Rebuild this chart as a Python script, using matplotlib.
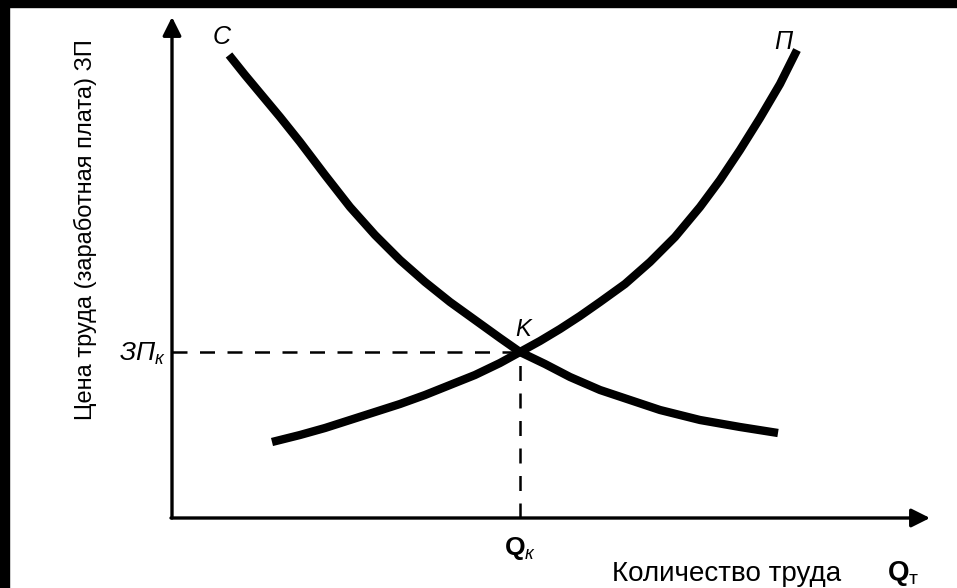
import matplotlib
matplotlib.use('Agg')
import matplotlib.pyplot as plt
from matplotlib.patches import Rectangle

plt.rcParams['font.family'] = ['Liberation Sans', 'DejaVu Sans']
plt.rcParams['mathtext.fontset'] = 'custom'
plt.rcParams['mathtext.rm'] = 'Liberation Sans'
plt.rcParams['mathtext.it'] = 'Liberation Sans:italic'
plt.rcParams['mathtext.bf'] = 'Liberation Sans:bold'

# Demand curve "С" (quantity of labour, wage)
demand_q = [5.7, 7.3, 8.8, 10.8, 12.8, 15.3, 17.8, 20.3, 22.8, 25.3, 27.8,
            30.3, 32.8, 34.8, 37.3, 39.8, 42.8, 45.8, 48.8, 52.8, 56.8, 60.6]
demand_w = [46.3, 44.3, 42.5, 40.1, 37.6, 34.3, 31.1, 28.3, 25.8, 23.6, 21.6,
            19.8, 18.0, 16.6, 15.4, 14.1, 12.8, 11.8, 10.8, 9.8, 9.1, 8.5]

# Supply curve "П"
supply_q = [10.0, 12.8, 15.3, 17.8, 20.3, 22.8, 25.3, 27.8, 30.3, 32.8, 34.8, 36.8,
            38.8, 40.8, 42.8, 45.3, 47.8, 50.3, 52.8, 54.8, 56.8, 58.8, 60.8, 62.5]
supply_w = [7.6, 8.3, 9.0, 9.8, 10.6, 11.4, 12.3, 13.3, 14.3, 15.5, 16.6, 17.7,
            18.9, 20.2, 21.6, 23.4, 25.6, 28.1, 31.1, 33.8, 36.8, 40.0, 43.4, 46.8]

# Equilibrium point K
eq_q = 34.8
eq_w = 16.6

y_label = 'Цена труда (заработная плата) ЗП'
x_label = 'Количество труда'

fig = plt.figure(figsize=(9.57, 5.88), dpi=100)
ax = fig.add_axes([0, 0, 1, 1])
ax.set_xlim(-17.2, 78.5)
ax.set_ylim(-7.0, 51.8)
ax.axis('off')

# axes with arrows
arrow_kw = dict(arrowstyle='-|>', color='black', lw=2.4, mutation_scale=28,
                shrinkA=0, shrinkB=0)
ax.annotate('', xy=(0, 50.1), xytext=(0, 0), arrowprops=arrow_kw)
ax.annotate('', xy=(75.8, 0), xytext=(-0.1, 0), arrowprops=arrow_kw)

# dashed guides to equilibrium
ax.plot([0, eq_q], [eq_w, eq_w], color='black', lw=1.8, ls=(0, (6, 5)))
ax.plot([eq_q, eq_q], [0, eq_w], color='black', lw=1.8, ls=(0, (6, 5)))

# curves
ax.plot(demand_q, demand_w, color='black', lw=6, solid_capstyle='butt',
        solid_joinstyle='round')
ax.plot(supply_q, supply_w, color='black', lw=6, solid_capstyle='butt',
        solid_joinstyle='round')

# curve labels
ax.text(5.0, 48.1, 'С', fontsize=18, style='italic', ha='center', va='center')
ax.text(61.1, 47.6, 'П', fontsize=18, style='italic', ha='center', va='center')
ax.text(eq_q + 0.3, 18.9, 'K', fontsize=17, style='italic', ha='center', va='center')

# axis value labels
ax.text(-0.6, eq_w - 0.2, r'$ЗП_к$', fontsize=19, ha='right', va='center')
ax.text(eq_q, -3.0, r'$\mathbf{Q}_к$', fontsize=19, ha='center', va='center')

# axis titles
ax.text(-8.7, 28.8, y_label, fontsize=17, rotation=90, ha='center', va='center')
ax.text(44.0, -5.6, x_label, fontsize=20, ha='left', va='center')
ax.text(71.5, -5.5, r'$\mathbf{Q}_{\mathrm{т}}$', fontsize=20, ha='left', va='center')

# scanned-image black frame on top and left
fig.patches.append(Rectangle((0, 1 - 7 / 588), 1, 7 / 588, transform=fig.transFigure,
                             color='black', zorder=10))
fig.patches.append(Rectangle((0, 0), 9 / 957, 1, transform=fig.transFigure,
                             color='black', zorder=10))

fig.savefig('out.png', dpi=100, facecolor='white')
